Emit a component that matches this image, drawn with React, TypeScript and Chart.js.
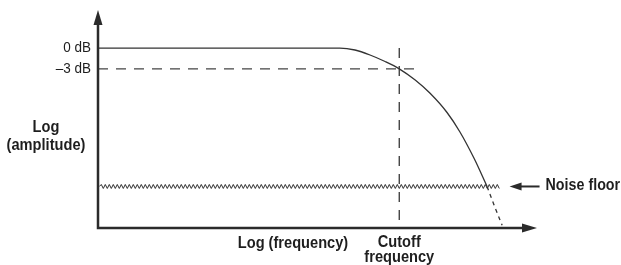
import React, { useEffect, useRef } from "react";
import { Chart, registerables } from "chart.js";

Chart.register(...registerables);

// ---- data (log frequency units, log amplitude units in dB) ----
const xRange = [0, 10.2];
const yRange = [-26, 5.5];

const responseX = [0, 5.62, 5.97, 6.32, 6.67, 7.0, 7.37, 7.71, 8.11, 8.41, 8.74, 9.04];
const responseY = [0, 0, -0.28, -1.0, -1.94, -3.0, -4.62, -6.5, -9.31, -12.13, -15.97, -20.0];

const belowNoiseX = [9.04, 9.22, 9.39];
const belowNoiseY = [-20.0, -22.96, -25.6];

const noiseFloorX = [0.03, 9.33];
const noiseFloorLevel = -20;

const cutoffFrequency = 7;
const cutoffLineY = [0, -26];
const minus3X = [0, 7.43];
const minus3Level = -3;

const yTickValues = [0, -3];
const yTickLabels = ["0 dB", "\u20133 dB"];

const yAxisTitle = ["Log", "(amplitude)"];
const xAxisTitle = "Log (frequency)";
const cutoffLabel = ["Cutoff", "frequency"];
const noiseLabel = "Noise floor";

const zip = (xs: number[], ys: number[]) => xs.map((x, i) => ({ x, y: ys[i] }));

const FONT = "'Liberation Sans', Arial, sans-serif";
const INK = "#2b2b2b";

function condensedText(
  ctx: CanvasRenderingContext2D,
  text: string,
  x: number,
  y: number,
  align: CanvasTextAlign,
  font: string,
  sx: number
) {
  ctx.save();
  ctx.font = font;
  ctx.textAlign = align;
  ctx.textBaseline = "middle";
  ctx.translate(x, y);
  ctx.scale(sx, 1);
  ctx.fillText(text, 0, 0);
  ctx.restore();
}

const diagramPlugin = {
  id: "diagram",
  afterDatasetsDraw(chart: any) {
    const { ctx, chartArea, scales } = chart;
    const xs = scales.x;
    const ys = scales.y;
    const left = chartArea.left;
    const right = chartArea.right;
    const top = chartArea.top;
    const bottom = chartArea.bottom;
    ctx.save();

    // noise floor zigzag
    const nx1 = xs.getPixelForValue(noiseFloorX[0]);
    const nx2 = xs.getPixelForValue(noiseFloorX[1]);
    const ny = ys.getPixelForValue(noiseFloorLevel);
    ctx.beginPath();
    ctx.strokeStyle = "#2e2e2e";
    ctx.lineWidth = 1;
    const half = 2;
    let up = true;
    ctx.moveTo(nx1, ny);
    for (let px = nx1 + half; px <= nx2; px += half) {
      ctx.lineTo(px, ny + (up ? -2 : 2));
      up = !up;
    }
    ctx.stroke();

    // axes
    ctx.strokeStyle = INK;
    ctx.fillStyle = INK;
    ctx.lineWidth = 2.5;
    ctx.beginPath();
    ctx.moveTo(left, bottom);
    ctx.lineTo(left, top + 12);
    ctx.moveTo(left - 1.25, bottom);
    ctx.lineTo(right - 12, bottom);
    ctx.stroke();
    // y arrow
    ctx.beginPath();
    ctx.moveTo(left, top);
    ctx.lineTo(left - 4.5, top + 15);
    ctx.lineTo(left + 4.5, top + 15);
    ctx.closePath();
    ctx.fill();
    // x arrow
    ctx.beginPath();
    ctx.moveTo(right, bottom);
    ctx.lineTo(right - 15, bottom - 4.5);
    ctx.lineTo(right - 15, bottom + 4.5);
    ctx.closePath();
    ctx.fill();

    // noise floor pointer arrow
    const ax = nx2 + 10;
    ctx.lineWidth = 2;
    ctx.beginPath();
    ctx.moveTo(ax + 8, ny);
    ctx.lineTo(ax + 30, ny);
    ctx.stroke();
    ctx.beginPath();
    ctx.moveTo(ax, ny);
    ctx.lineTo(ax + 12, ny - 4);
    ctx.lineTo(ax + 12, ny + 4);
    ctx.closePath();
    ctx.fill();

    // texts
    ctx.fillStyle = "#1e1e1e";
    const regular = `15px ${FONT}`;
    const bold = `bold 17px ${FONT}`;
    yTickValues.forEach((v, i) => {
      condensedText(ctx, yTickLabels[i], left - 7, ys.getPixelForValue(v), "right", regular, 0.9);
    });

    condensedText(ctx, yAxisTitle[0], 46, 127, "center", bold, 0.86);
    condensedText(ctx, yAxisTitle[1], 46, 145, "center", bold, 0.86);

    condensedText(ctx, xAxisTitle, 293, bottom + 15, "center", bold, 0.86);
    const cx = xs.getPixelForValue(cutoffFrequency);
    condensedText(ctx, cutoffLabel[0], cx, bottom + 14, "center", bold, 0.86);
    condensedText(ctx, cutoffLabel[1], cx, bottom + 29, "center", bold, 0.86);

    condensedText(ctx, noiseLabel, ax + 36, ny - 1, "left", bold, 0.84);

    ctx.restore();
  },
};

export default function App() {
  const ref = useRef<HTMLCanvasElement | null>(null);
  useEffect(() => {
    if (!ref.current) return;
    const line = "#333";
    const chart = new Chart(ref.current, {
      type: "scatter",
      data: {
        datasets: [
          {
            data: zip(responseX, responseY),
            showLine: true,
            borderColor: line,
            borderWidth: 1.3,
            pointRadius: 0,
            cubicInterpolationMode: "monotone",
          },
          {
            data: zip(belowNoiseX, belowNoiseY),
            showLine: true,
            borderColor: line,
            borderWidth: 1.3,
            borderDash: [4, 4],
            pointRadius: 0,
            cubicInterpolationMode: "monotone",
          },
          {
            data: zip(minus3X, [minus3Level, minus3Level]),
            showLine: true,
            borderColor: "#444",
            borderWidth: 1.4,
            borderDash: [10, 8],
            pointRadius: 0,
          },
          {
            data: zip([cutoffFrequency, cutoffFrequency], cutoffLineY),
            showLine: true,
            borderColor: "#444",
            borderWidth: 1.4,
            borderDash: [10, 8],
            pointRadius: 0,
          },
        ],
      } as any,
      options: {
        animation: false,
        responsive: false,
        events: [],
        layout: { padding: { left: 98, right: 84, top: 10, bottom: 37 } },
        plugins: { legend: { display: false }, tooltip: { enabled: false } },
        scales: {
          x: { type: "linear", display: false, min: xRange[0], max: xRange[1] },
          y: { type: "linear", display: false, min: yRange[0], max: yRange[1] },
        },
      } as any,
      plugins: [diagramPlugin],
    });
    return () => chart.destroy();
  }, []);
  return (
    <div style={{ position: "absolute", left: 0, top: 0, width: 621, height: 265, background: "#fff" }}>
      <canvas ref={ref} width={621} height={265} />
    </div>
  );
}
